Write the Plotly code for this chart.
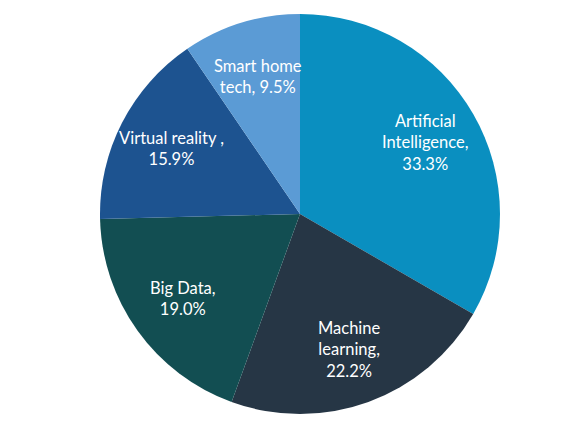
import math
import plotly.graph_objects as go

categories = ["Artificial Intelligence", "Machine learning", "Big Data", "Virtual reality ", "Smart home tech"]
label_lines = ["Artificial<br>Intelligence,", "Machine<br>learning,", "Big Data,", "Virtual reality ,", "Smart home<br>tech,"]
counts = [21, 14, 12, 10, 6]
colors = ["#0A8FC0", "#263645", "#124E52", "#1D5390", "#5B9BD5"]
seps = ["<br>", "<br>", "<br>", "<br>", " "]

total = sum(counts)
texts = [f"{l}{s}{c / total * 100:.1f}%" for l, s, c in zip(label_lines, seps, counts)]

fig = go.Figure(go.Pie(
    labels=categories,
    values=counts,
    textinfo="none",
    marker=dict(colors=colors, line=dict(width=0)),
    sort=False,
    direction="clockwise",
    rotation=0,
    showlegend=False,
    hoverinfo="label+percent",
))

# data labels placed along each slice's mid-angle (like spreadsheet "best fit")
label_r = 0.72
cum = 0
annotations = []
for c, t in zip(counts, texts):
    mid = (cum + c / 2) / total * 2 * math.pi
    cum += c
    annotations.append(dict(
        x=0.5 + 0.5 * label_r * math.sin(mid),
        y=0.5 + 0.5 * label_r * math.cos(mid),
        xref="paper", yref="paper",
        text=t, showarrow=False,
        xanchor="center", yanchor="middle", align="center",
        font=dict(family="Lato, sans-serif", size=16.5, color="white"),
    ))

fig.update_layout(
    width=580, height=435,
    margin=dict(l=92, r=88, t=6, b=29),
    paper_bgcolor="white",
    plot_bgcolor="white",
    annotations=annotations,
)
fig.write_html("out.html")
